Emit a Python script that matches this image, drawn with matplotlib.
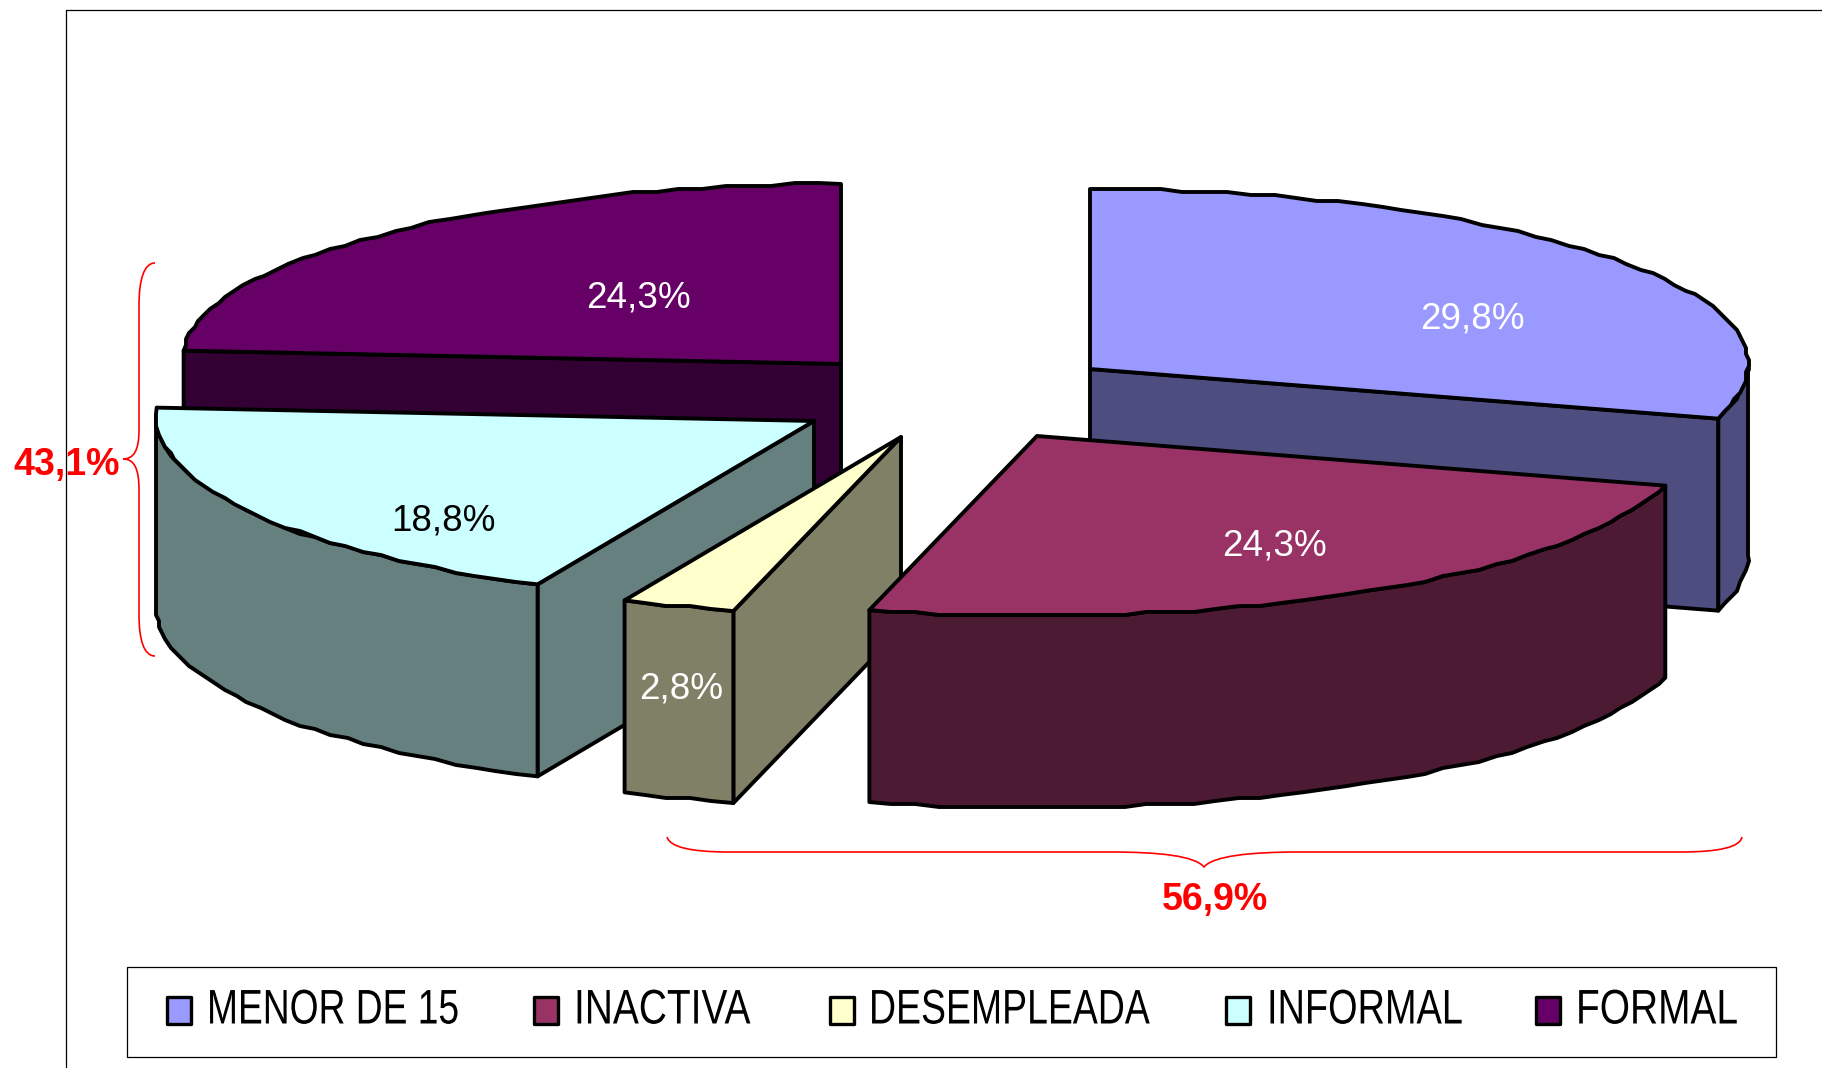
import numpy as np
import matplotlib
matplotlib.use("Agg")
import matplotlib.pyplot as plt
from matplotlib.patches import Polygon, PathPatch, Rectangle
from matplotlib.path import Path
from matplotlib.patheffects import AbstractPathEffect
from matplotlib.transforms import Affine2D

categories = ["MENOR DE 15", "INACTIVA", "DESEMPLEADA", "INFORMAL", "FORMAL"]
values = [29.8, 24.3, 2.8, 18.8, 24.3]
group_left = ["INFORMAL", "FORMAL"]
group_right = ["MENOR DE 15", "INACTIVA", "DESEMPLEADA"]

top_colors = ["#9999FF", "#993366", "#FFFFCC", "#CCFFFF", "#660066"]
side_colors = ["#4D4D80", "#4D1A33", "#808066", "#668080", "#330033"]
label_colors = ["white", "white", "white", "black", "white"]
apexes = [(1090, 369), (1037, 436), (901, 437), (814, 421), (841, 364)]
label_pos = [(1472, 319), (1275, 546), (681, 689), (444, 521), (638, 298)]
legend_swatch_x = [167, 534, 830, 1226, 1536]
legend_text_x = [207, 574, 869, 1267, 1576]
legend_squeeze = [0.765, 0.80, 0.77, 0.78, 0.80]

RX, RY, DEPTH = 658, 180, 192
GRID = 3.0
LW = 2.8
SANS = "Liberation Sans"

fig = plt.figure(figsize=(18.22, 10.68), dpi=100)
ax = fig.add_axes([0, 0, 1, 1])
ax.set_xlim(0, 1822)
ax.set_ylim(1068, 0)
ax.axis("off")


class Squeeze(AbstractPathEffect):
    """Narrow a text horizontally about its left edge (the original's legend is condensed)."""

    def __init__(self, x0, factor):
        super().__init__()
        self.x0, self.factor = x0, factor

    def draw_path(self, renderer, gc, tpath, affine, rgbFace=None):
        squeezed = affine + Affine2D().translate(-self.x0, 0).scale(self.factor, 1).translate(self.x0, 0)
        renderer.draw_path(gc, tpath, squeezed, rgbFace)


def point(apex, deg):
    t = np.radians(deg)
    return np.array([apex[0] + RX * np.sin(t),
                     apex[1] - RY * np.cos(t) - 5.5 * np.sin(t) ** 8])


def arc(apex, a0, a1):
    """Outer rim between two angles, with the stepped look of the device-unit original."""
    n = max(2, int(abs(a1 - a0) / 2.0) + 1)
    pts = [point(apex, a) for a in np.linspace(a0, a1, n)]
    mid = [np.round(p / GRID) * GRID for p in pts[1:-1]]
    return np.array([pts[0]] + mid + [pts[-1]])


def poly(pts, color, z):
    ax.add_patch(Polygon(pts, closed=True, facecolor=color, edgecolor="black",
                         lw=LW, joinstyle="round", zorder=z))


def drop(pts):
    return np.asarray(pts) + np.array([0, DEPTH])


cum = np.concatenate([[0], np.cumsum(values)]) * 3.6


def draw_slice(i, z, radial=None):
    a0, a1 = cum[i], cum[i + 1]
    apex = apexes[i]
    if radial is not None:
        edge = np.array([apex, point(apex, radial)])
        poly(np.vstack([edge, drop(edge)[::-1]]), side_colors[i], z)
    lo, hi = max(a0, 90), min(a1, 270)
    if lo < hi:
        rim = arc(apex, lo, hi)
        poly(np.vstack([rim, drop(rim)[::-1]]), side_colors[i], z + 0.1)
    poly(np.vstack([[apex], arc(apex, a0, a1)]), top_colors[i], z + 0.2)


# back to front
draw_slice(0, 2, radial=cum[1])
draw_slice(4, 3, radial=cum[4])
draw_slice(3, 4, radial=cum[3])
draw_slice(2, 5, radial=cum[2])
draw_slice(1, 6)


def fmt(v):
    return f"{v:.1f}%".replace(".", ",")


for v, pos, col in zip(values, label_pos, label_colors):
    ax.text(pos[0], pos[1], fmt(v), color=col, fontsize=26.6, family=SANS,
            ha="center", va="center", zorder=10)

# outer frame
ax.plot([66, 66, 1830], [1075, 10, 10], color="black", lw=0.9, zorder=1)

# braces
C4 = Path.CURVE4
L = Path.LINETO
M = Path.MOVETO
left = Path([(155, 263), (144, 263), (139, 280), (139, 305),
             (139, 430), (139, 450), (134, 459), (123, 459),
             (134, 459), (139, 468), (139, 490),
             (139, 615), (139, 640), (144, 656), (155, 656)],
            [M, C4, C4, C4, L, C4, C4, C4, C4, C4, C4, L, C4, C4, C4])
bottom = Path([(667, 837), (670, 847), (690, 852), (730, 852),
               (1110, 852), (1160, 852), (1195, 856), (1204, 867),
               (1213, 856), (1250, 852), (1300, 852),
               (1680, 852), (1720, 852), (1740, 847), (1742, 837)],
              [M, C4, C4, C4, L, C4, C4, C4, C4, C4, C4, L, C4, C4, C4])
for p in (left, bottom):
    ax.add_patch(PathPatch(p, facecolor="none", edgecolor="#FF0000", lw=1.2, zorder=8))

sum_left = sum(values[categories.index(c)] for c in group_left)
sum_right = sum(values[categories.index(c)] for c in group_right)
ax.text(67, 465, fmt(sum_left), color="#FF0000", fontsize=27, fontweight="bold",
        family=SANS, ha="center", va="center", zorder=9)
ax.text(1215, 900, fmt(sum_right), color="#FF0000", fontsize=27, fontweight="bold",
        family=SANS, ha="center", va="center", zorder=9)

# legend
ax.add_patch(Rectangle((127, 967), 1649, 90, facecolor="white", edgecolor="black",
                       lw=0.9, zorder=11))
for name, col, sx, tx, sq in zip(categories, top_colors, legend_swatch_x,
                                 legend_text_x, legend_squeeze):
    ax.add_patch(Rectangle((sx, 997), 24, 27, facecolor=col, edgecolor="black",
                           lw=2.4, joinstyle="round", zorder=12))
    ax.text(tx, 1011, name, color="black", fontsize=35, family=SANS,
            ha="left", va="center", zorder=12, path_effects=[Squeeze(tx, sq)])

fig.savefig("out.png", dpi=100, facecolor="white")
